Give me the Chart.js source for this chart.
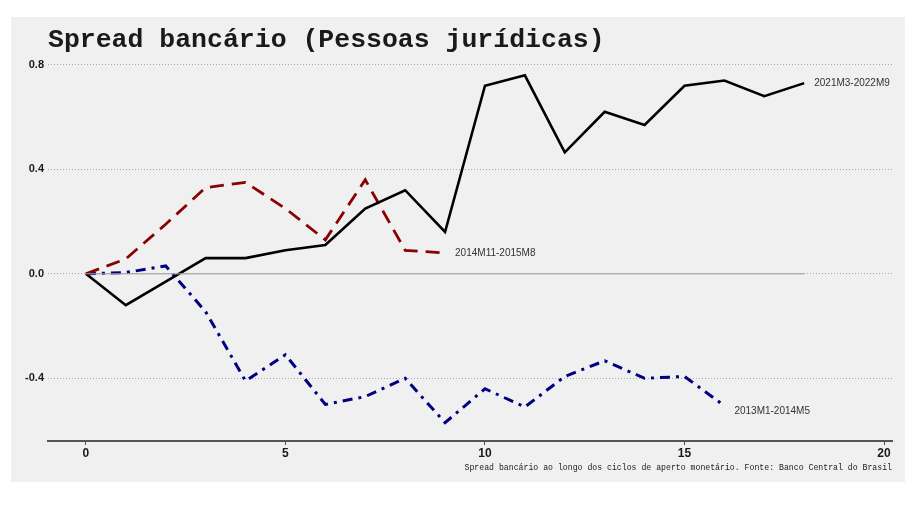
<!DOCTYPE html>
<html>
<head>
<meta charset="utf-8">
<script src="https://cdn.jsdelivr.net/npm/chart.js@4.4.1/dist/chart.umd.min.js"></script>
<style>
  html, body { margin: 0; padding: 0; background: #fff; }
  #wrap { width: 906px; height: 509px; }
</style>
</head>
<body>
<div id="wrap"><canvas id="spreadChart" width="906" height="509"></canvas></div>
<script>
// months since start of each tightening cycle (x = index)
const cycle2021 = [0.00, -0.12, -0.03, 0.06, 0.06, 0.09, 0.11, 0.25, 0.32, 0.16,
                   0.72, 0.76, 0.465, 0.62, 0.57, 0.72, 0.74, 0.68, 0.73];
const cycle2014 = [0.00, 0.057, 0.19, 0.33, 0.35, 0.25, 0.13, 0.36, 0.09, 0.08];
const cycle2013 = [0.00, 0.005, 0.03, -0.145, -0.41, -0.31, -0.50, -0.47, -0.40, -0.57,
                   -0.44, -0.51, -0.393, -0.333, -0.40, -0.393, -0.505];
const seriesNames = ['2021M3-2022M9', '2014M11-2015M8', '2013M1-2014M5'];
const xTicks = [0, 5, 10, 15, 20];
const yTicks = [-0.4, 0.0, 0.4, 0.8];

const titleText = 'Spread bancário (Pessoas jurídicas)';
const captionText = 'Spread bancário ao longo dos ciclos de aperto monetário. Fonte: Banco Central do Brasil';

function toPoints(arr) {
  return arr.map((v, i) => ({ x: i, y: v }));
}

const labelNudge = [0, 0, 6];

const decorPlugin = {
  id: 'decor',
  beforeDraw(chart) {
    const ctx = chart.ctx;
    ctx.save();
    ctx.fillStyle = '#fff';
    ctx.fillRect(0, 0, chart.width, chart.height);
    ctx.fillStyle = '#f0f0f0';
    ctx.fillRect(11, 17, 894, 465);
    ctx.restore();
  },
  afterDatasetsDraw(chart) {
    const ctx = chart.ctx;
    ctx.save();
    // end-of-line labels
    ctx.font = '10px "Liberation Sans", Arial, sans-serif';
    ctx.fillStyle = '#333';
    ctx.textBaseline = 'middle';
    ctx.textAlign = 'left';
    for (let i = 0; i < 3; i++) {
      const meta = chart.getDatasetMeta(i);
      const last = meta.data[meta.data.length - 1];
      ctx.fillText(seriesNames[i], last.x + 10, last.y + labelNudge[i]);
    }
    // title
    ctx.font = 'bold 26.5px "Liberation Mono", "Courier New", monospace';
    ctx.fillStyle = '#1a1a1a';
    ctx.textBaseline = 'alphabetic';
    ctx.fillText(titleText, 48, 47);
    // caption
    ctx.font = '8.2px "Liberation Mono", "Courier New", monospace';
    ctx.fillStyle = '#222';
    ctx.textAlign = 'right';
    ctx.fillText(captionText, 892, 470);
    ctx.restore();
  }
};

new Chart(document.getElementById('spreadChart'), {
  type: 'line',
  data: {
    datasets: [
      {
        label: seriesNames[0],
        data: toPoints(cycle2021),
        borderColor: '#000',
        borderWidth: 2.6,
        pointRadius: 0
      },
      {
        label: seriesNames[1],
        data: toPoints(cycle2014),
        borderColor: '#8b0000',
        borderWidth: 2.8,
        borderDash: [14, 8],
        pointRadius: 0
      },
      {
        label: seriesNames[2],
        data: toPoints(cycle2013),
        borderColor: '#000080',
        borderWidth: 3,
        borderDash: [10, 6, 3, 6],
        pointRadius: 0
      },
      {
        label: 'zero',
        data: [{ x: 0, y: 0 }, { x: cycle2021.length - 1, y: 0 }],
        borderColor: 'rgba(160,160,160,0.75)',
        borderWidth: 1.4,
        pointRadius: 0,
        order: -1
      }
    ]
  },
  plugins: [decorPlugin],
  options: {
    responsive: false,
    animation: false,
    layout: { padding: { left: 0, top: 57, right: 14, bottom: 48 } },
    plugins: {
      legend: { display: false },
      tooltip: { enabled: false },
      title: { display: false }
    },
    scales: {
      x: {
        type: 'linear',
        min: -0.95,
        max: 20.2,
        afterBuildTicks(scale) { scale.ticks = xTicks.map(v => ({ value: v })); },
        afterFit(scale) { scale.height = 20; },
        grid: {
          display: true,
          drawOnChartArea: false,
          drawTicks: true,
          tickLength: 4,
          color: '#555',
          lineWidth: 1
        },
        border: { display: true, color: '#555', width: 2 },
        ticks: {
          padding: 1,
          maxRotation: 0,
          color: '#1a1a1a',
          font: { family: '"Liberation Sans", Arial, sans-serif', size: 12, weight: 'bold' }
        }
      },
      y: {
        type: 'linear',
        min: -0.64,
        max: 0.83,
        afterBuildTicks(scale) { scale.ticks = yTicks.map(v => ({ value: v })); },
        afterFit(scale) { scale.width = 48; },
        grid: {
          display: true,
          drawTicks: false,
          color: '#a8a8a8',
          lineWidth: 1
        },
        border: { display: false, dash: [1, 2] },
        ticks: {
          padding: 4,
          color: '#1a1a1a',
          font: { family: '"Liberation Sans", Arial, sans-serif', size: 11, weight: 'bold' },
          callback: v => v.toFixed(1)
        }
      }
    }
  }
});
</script>
</body>
</html>
